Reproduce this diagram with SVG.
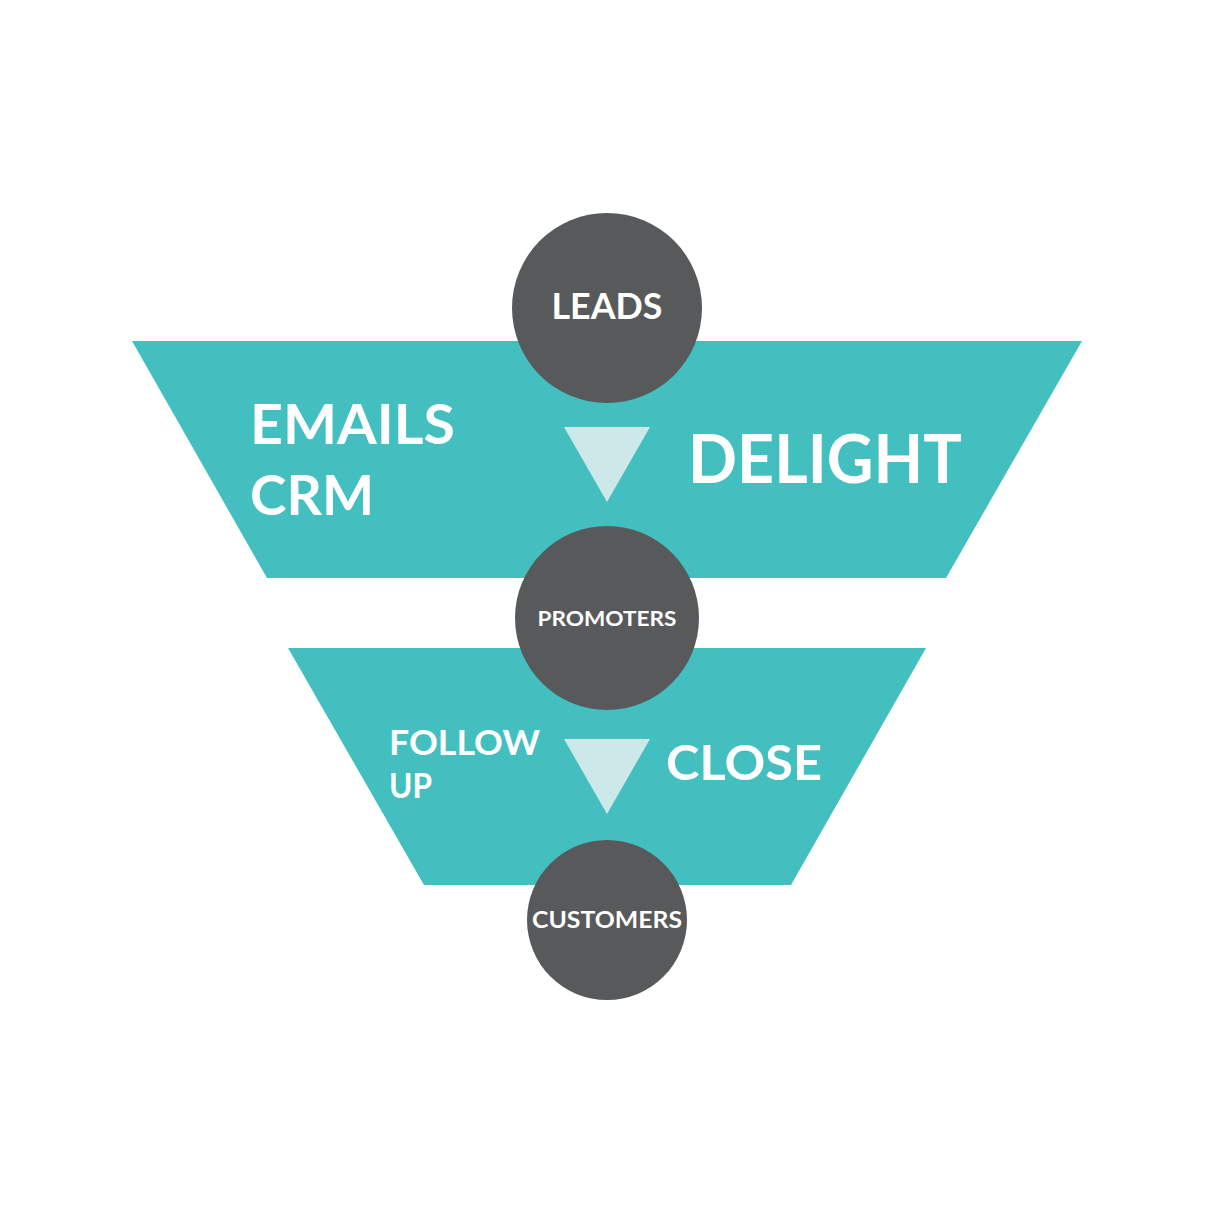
<svg xmlns="http://www.w3.org/2000/svg" width="1214" height="1214" viewBox="0 0 1214 1214">
<style>
.stage{fill:#43BFC0}
.node{fill:#58595B}
.arrow{fill:#CDE8E8}
text{font-family:Lato,"Open Sans","Liberation Sans",sans-serif;font-weight:700;fill:#FFFFFF}
</style>
<rect width="1214" height="1214" fill="#FFFFFF"/>
<g id="stage-delight">
<polygon class="stage" points="132,341 1082,341 946,578 267,578"/>
<text x="250" y="444" font-size="56" textLength="205" lengthAdjust="spacingAndGlyphs">EMAILS</text>
<text x="250" y="515" font-size="56" textLength="124" lengthAdjust="spacingAndGlyphs">CRM</text>
<text x="688" y="483" font-size="66" textLength="274" lengthAdjust="spacingAndGlyphs">DELIGHT</text>
</g>
<g id="stage-close">
<polygon class="stage" points="288,648 926,648 791,885 424,885"/>
<text x="389" y="755" font-size="34" textLength="151" lengthAdjust="spacingAndGlyphs">FOLLOW</text>
<text x="389" y="798" font-size="34" textLength="43" lengthAdjust="spacingAndGlyphs">UP</text>
<text x="666" y="780" font-size="48" textLength="156" lengthAdjust="spacingAndGlyphs">CLOSE</text>
</g>
<g id="connectors">
<polygon class="arrow" points="564,427 650,427 607,502"/>
<polygon class="arrow" points="564,739 650,739 607,814"/>
</g>
<g id="node-leads">
<circle class="node" cx="607" cy="308" r="95"/>
<text x="607" y="319" font-size="36" text-anchor="middle" textLength="111" lengthAdjust="spacingAndGlyphs">LEADS</text>
</g>
<g id="node-promoters">
<circle class="node" cx="607" cy="618" r="92"/>
<text x="607" y="626" font-size="21" text-anchor="middle" textLength="139" lengthAdjust="spacingAndGlyphs">PROMOTERS</text>
</g>
<g id="node-customers">
<circle class="node" cx="607" cy="920" r="80"/>
<text x="607" y="928" font-size="22" text-anchor="middle" textLength="150" lengthAdjust="spacingAndGlyphs">CUSTOMERS</text>
</g>
</svg>
